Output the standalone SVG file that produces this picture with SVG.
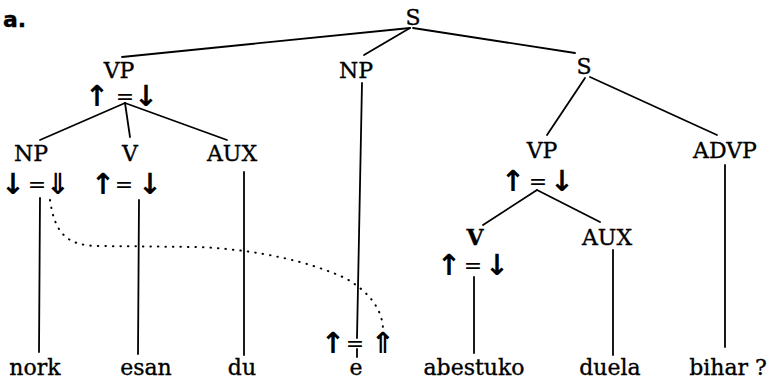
<svg xmlns="http://www.w3.org/2000/svg" width="770" height="383" viewBox="0 0 770 383">
<style>
.t{font-family:"DejaVu Serif","Liberation Serif",serif;font-size:22px;fill:#000;stroke:#000;stroke-width:0.35;text-anchor:middle}
.b{font-weight:bold}
.ar{font-family:"DejaVu Sans","Liberation Sans",sans-serif;font-size:29px;font-weight:bold;fill:#000;text-anchor:middle}
.eq{font-family:"DejaVu Serif","Liberation Serif",serif;font-size:22px;fill:#000;text-anchor:middle}
.l{stroke:#000;stroke-width:1.8;fill:none;stroke-linecap:round}
.d{stroke:#000;stroke-width:2;fill:none;stroke-linecap:round;stroke-dasharray:0.5 7}
</style>
<rect width="770" height="383" fill="#fff"/>
<text x="3" y="27" class="t b" style="text-anchor:start;font-family:'DejaVu Sans',sans-serif">a.</text>
<g id="connectors">
<line class="l" x1="410" y1="28" x2="122" y2="57"/>
<line class="l" x1="410" y1="28" x2="364" y2="55"/>
<line class="l" x1="413" y1="28" x2="575" y2="53"/>
<line class="l" x1="125" y1="103" x2="40" y2="140"/>
<line class="l" x1="125" y1="103" x2="130" y2="137"/>
<line class="l" x1="125" y1="103" x2="227" y2="140"/>
<line class="l" x1="40" y1="198" x2="39" y2="352"/>
<line class="l" x1="139" y1="200" x2="138" y2="354"/>
<line class="l" x1="244" y1="172" x2="244" y2="355"/>
<line class="l" x1="362" y1="83" x2="357" y2="338"/>
<line class="l" x1="357" y1="349" x2="357" y2="357"/>
<line class="l" x1="585" y1="78" x2="547" y2="135"/>
<line class="l" x1="590" y1="77" x2="717" y2="135"/>
<line class="l" x1="537" y1="190" x2="483" y2="225"/>
<line class="l" x1="537" y1="190" x2="600" y2="222"/>
<line class="l" x1="725" y1="165" x2="725" y2="347"/>
<line class="l" x1="613" y1="250" x2="613" y2="355"/>
<line class="l" x1="474" y1="277" x2="474" y2="353"/>
<path class="d" d="M50,200 C55,235 68,246 100,246 L200,247 C260,250 310,262 345,278 C370,292 382,310 383,328"/>
</g>
<g id="S"><text x="413" y="25" class="t">S</text></g>
<g id="VP"><text x="119" y="78" class="t">VP</text>
<text x="97" y="106" class="ar">↑</text><text x="125" y="104" class="eq">=</text><text x="146" y="106" class="ar">↓</text></g>
<g id="NP-mid"><text x="356" y="78" class="t">NP</text></g>
<g id="S2"><text x="584" y="74" class="t">S</text></g>
<g id="NP-left"><text x="31" y="161" class="t">NP</text>
<text x="13" y="194" class="ar">↓</text><text x="37" y="192" class="eq">=</text><text x="58" y="194" class="ar">⇓</text></g>
<g id="V"><text x="130" y="161" class="t">V</text>
<text x="103" y="194" class="ar">↑</text><text x="124" y="192" class="eq">=</text><text x="150" y="194" class="ar">↓</text></g>
<g id="AUX"><text x="232" y="161" class="t">AUX</text></g>
<g id="VP2"><text x="542" y="158" class="t">VP</text>
<text x="513" y="191" class="ar">↑</text><text x="538" y="189" class="eq">=</text><text x="562" y="191" class="ar">↓</text></g>
<g id="ADVP"><text x="725" y="158" class="t">ADVP</text></g>
<g id="V2"><text x="475" y="245" class="t b">V</text>
<text x="449" y="275" class="ar">↑</text><text x="473" y="273" class="eq">=</text><text x="497" y="275" class="ar">↓</text></g>
<g id="AUX2"><text x="607" y="245" class="t">AUX</text></g>
<g id="e-ann"><text x="333" y="353" class="ar">↑</text><text x="355" y="351" class="eq">=</text><text x="383" y="353" class="ar">⇑</text></g>
<g id="words">
<text x="35" y="375" class="t">nork</text>
<text x="146" y="375" class="t">esan</text>
<text x="242" y="375" class="t">du</text>
<text x="356" y="375" class="t">e</text>
<text x="474" y="375" class="t">abestuko</text>
<text x="610" y="375" class="t">duela</text>
<text x="728" y="375" class="t">bihar ?</text>
</g>
</svg>
